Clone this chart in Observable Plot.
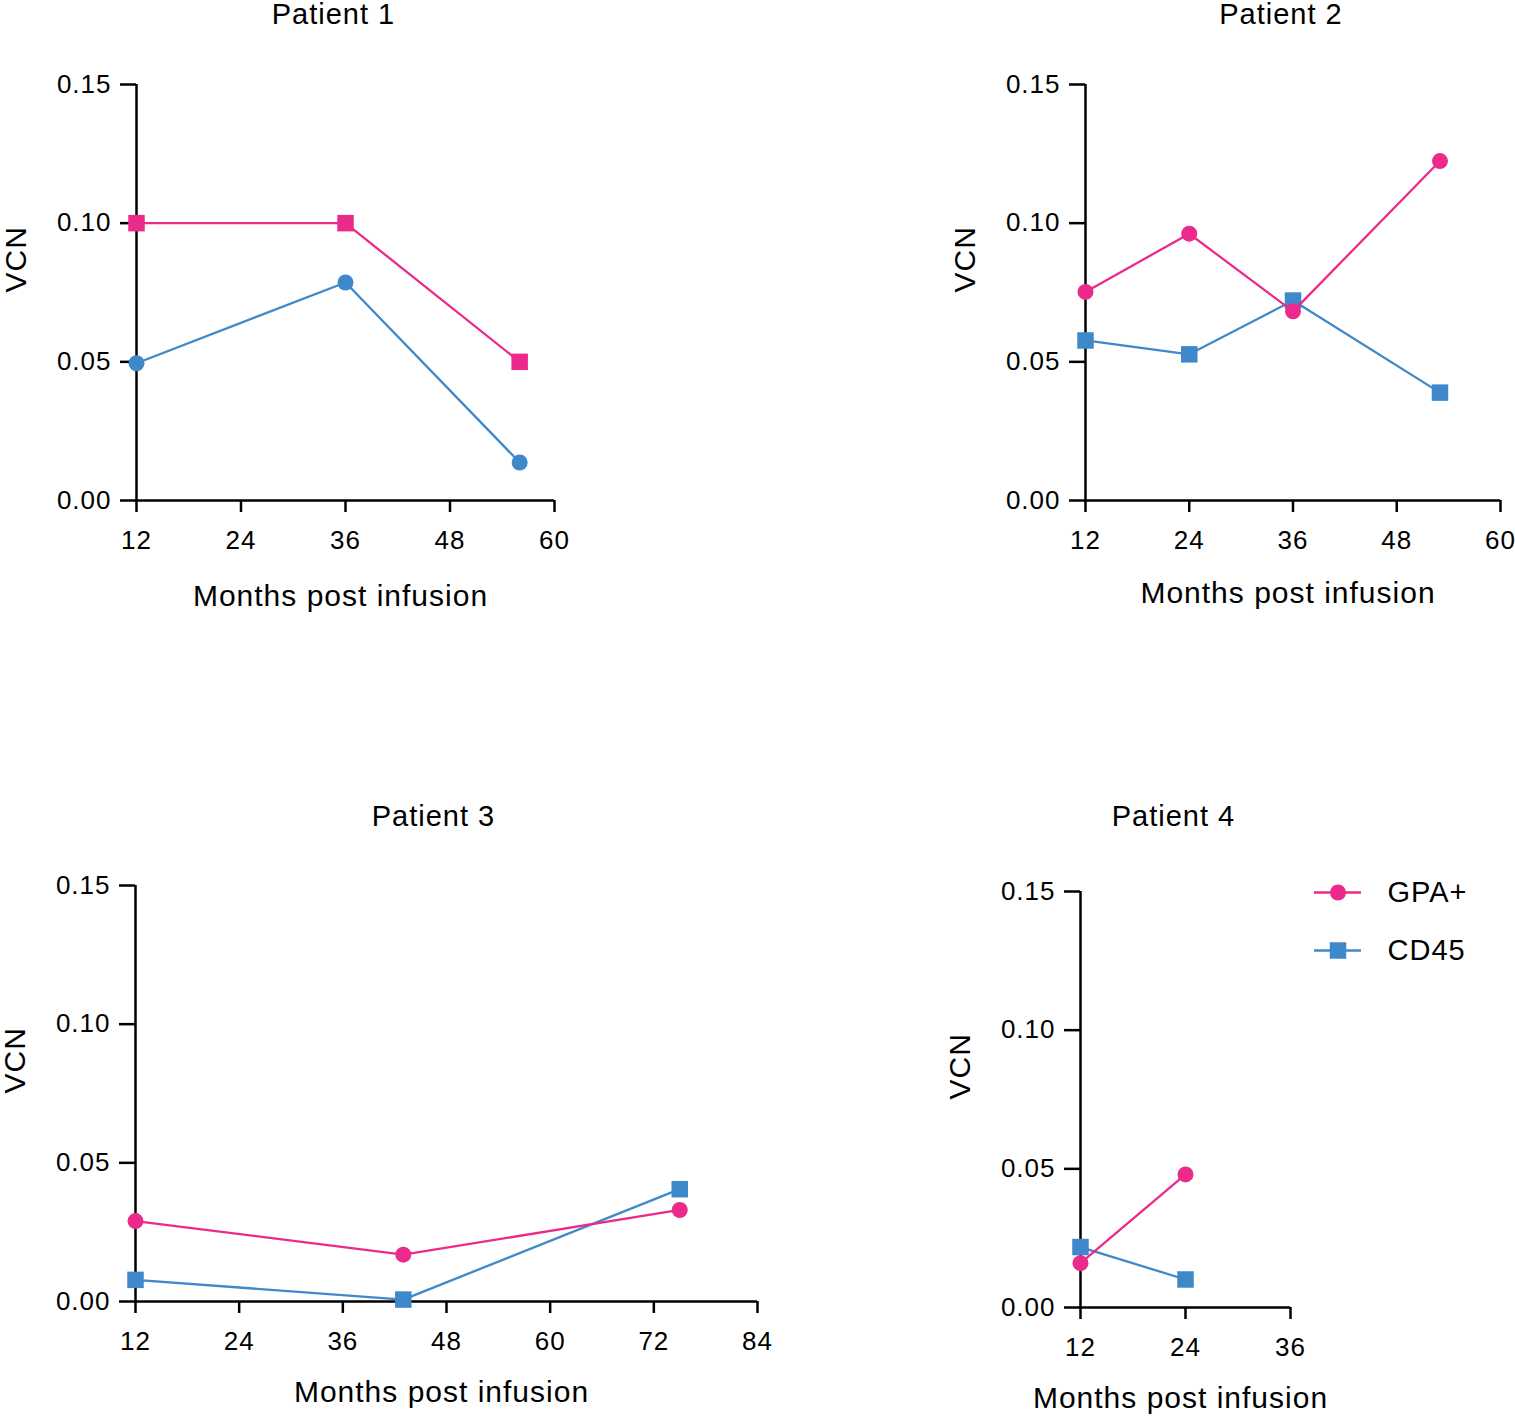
<!DOCTYPE html>
<html>
<head>
<meta charset="utf-8">
<script src="https://cdn.jsdelivr.net/npm/d3@7"></script>
<script src="https://cdn.jsdelivr.net/npm/@observablehq/plot@0.6"></script>
<style>
  html, body { margin: 0; padding: 0; background: #fff; }
  #root { position: relative; width: 1515px; height: 1417px; overflow: hidden; background: #fff; }
  #root svg { position: absolute; overflow: visible; }
</style>
</head>
<body>
<div id="root"></div>
<script>
// ---------- data ----------
const seriesNames = ["GPA+", "CD45"];
const seriesColors = ["#EC2A8B", "#3F88C9"];
const legendSymbols = ["circle", "square"];
const yTicks = [0, 0.05, 0.10, 0.15];

const p1Title = "Patient 1";
const p1Months = [12, 36, 56];
const p1GPA = [0.100, 0.100, 0.050];
const p1CD45 = [0.0495, 0.0786, 0.0137];
const p1Symbols = ["square", "circle"];
const p1XTicks = [12, 24, 36, 48, 60];

const p2Title = "Patient 2";
const p2Months = [12, 24, 36, 53];
const p2GPA = [0.0752, 0.0962, 0.0682, 0.1224];
const p2CD45 = [0.0577, 0.0527, 0.0721, 0.0389];
const p2Symbols = ["circle", "square"];
const p2XTicks = [12, 24, 36, 48, 60];

const p3Title = "Patient 3";
const p3Months = [12, 43, 75];
const p3GPA = [0.0290, 0.0169, 0.0330];
const p3CD45 = [0.0078, 0.0007, 0.0405];
const p3Symbols = ["circle", "square"];
const p3XTicks = [12, 24, 36, 48, 60, 72, 84];

const p4Title = "Patient 4";
const p4Months = [12, 24];
const p4GPA = [0.0160, 0.0480];
const p4CD45 = [0.0218, 0.0101];
const p4Symbols = ["circle", "square"];
const p4XTicks = [12, 24, 36];

const xLabel = "Months post infusion";
const yLabel = "VCN";

// ---------- layout ----------
const FONT = "'Liberation Sans', Arial, Helvetica, sans-serif";
const innerH = 416;
const ML = 136, MT = 84, MR = 30, MB = 120;

const panels = [
  {title: p1Title, months: p1Months, gpa: p1GPA, cd45: p1CD45, symbols: p1Symbols, ticks: p1XTicks,
   axisX: 136, top: 84, plotW: 418, titleDx: -12, titleDy: -70, xLabelDy: 96},
  {title: p2Title, months: p2Months, gpa: p2GPA, cd45: p2CD45, symbols: p2Symbols, ticks: p2XTicks,
   axisX: 1085, top: 84, plotW: 415, titleDx: -12, titleDy: -70, xLabelDy: 93},
  {title: p3Title, months: p3Months, gpa: p3GPA, cd45: p3CD45, symbols: p3Symbols, ticks: p3XTicks,
   axisX: 135, top: 885, plotW: 622, titleDx: -13, titleDy: -69, xLabelDy: 91},
  {title: p4Title, months: p4Months, gpa: p4GPA, cd45: p4CD45, symbols: p4Symbols, ticks: p4XTicks,
   axisX: 1080, top: 891, plotW: 210, titleDx: -12, titleDy: -75, xLabelDy: 91}
];

function symR(sym) { return sym === "square" ? 9.3 : 8; }

const root = document.getElementById("root");

panels.forEach(p => {
  const xMin = p.ticks[0], xMax = p.ticks[p.ticks.length - 1];
  const cd = p.months.map((m, i) => ({month: m, vcn: p.cd45[i], series: seriesNames[1]}));
  const gp = p.months.map((m, i) => ({month: m, vcn: p.gpa[i], series: seriesNames[0]}));

  const chart = Plot.plot({
    width: ML + p.plotW + MR,
    height: MT + innerH + MB,
    marginLeft: ML, marginTop: MT, marginRight: MR, marginBottom: MB,
    style: {fontFamily: FONT, color: "#000", background: "transparent", letterSpacing: "1px"},
    x: {domain: [xMin, xMax]},
    y: {domain: [0, 0.15]},
    marks: [
      Plot.axisX({ticks: p.ticks, tickSize: 12, tickPadding: 18, strokeWidth: 2.5, label: null,
                  fontSize: 26, tickFormat: d3.format("d")}),
      Plot.axisY({ticks: yTicks, tickSize: 16, tickPadding: 9, strokeWidth: 2.5, label: null,
                  fontSize: 26, tickFormat: d3.format(".2f")}),
      Plot.ruleX([xMin], {y1: 0, y2: 0.15, stroke: "#000", strokeWidth: 2.5}),
      Plot.ruleY([0], {x1: xMin, x2: xMax, stroke: "#000", strokeWidth: 2.5}),
      Plot.line(cd, {x: "month", y: "vcn", stroke: seriesColors[1], strokeWidth: 2.3}),
      Plot.dot(cd, {x: "month", y: "vcn", symbol: p.symbols[1], r: symR(p.symbols[1]), fill: seriesColors[1], stroke: "none"}),
      Plot.line(gp, {x: "month", y: "vcn", stroke: seriesColors[0], strokeWidth: 2.3}),
      Plot.dot(gp, {x: "month", y: "vcn", symbol: p.symbols[0], r: symR(p.symbols[0]), fill: seriesColors[0], stroke: "none"}),
      Plot.text([p.title], {frameAnchor: "top", lineAnchor: "middle", dy: p.titleDy, dx: p.titleDx, fontSize: 29, fill: "#000"}),
      Plot.text([xLabel], {frameAnchor: "bottom", lineAnchor: "middle", dy: p.xLabelDy, dx: -5, fontSize: 30, fill: "#000"}),
      Plot.text([yLabel], {frameAnchor: "left", lineAnchor: "middle", dx: -120, rotate: -90, fontSize: 30, fill: "#000"})
    ]
  });
  chart.style.left = (p.axisX - ML) + "px";
  chart.style.top = (p.top - MT) + "px";
  root.appendChild(chart);
});

// ---------- legend ----------
const legendRows = seriesNames.map((name, i) => ({name, color: seriesColors[i], symbol: legendSymbols[i]}));
const legend = Plot.plot({
  width: 200, height: 90,
  margin: 0,
  style: {fontFamily: FONT, color: "#000", background: "transparent", letterSpacing: "1px"},
  x: {domain: [0, 1], range: [0, 47], axis: null},
  y: {type: "point", domain: seriesNames, range: [15, 73], padding: 0, axis: null},
  marks: [
    Plot.ruleY(legendRows, {y: "name", x1: 0, x2: 1, stroke: "color", strokeWidth: 2.3}),
    Plot.dot(legendRows.filter(d => d.symbol === "circle"), {x: 0.5, y: "name", symbol: "circle", r: symR("circle"), fill: "color", stroke: "none"}),
    Plot.dot(legendRows.filter(d => d.symbol === "square"), {x: 0.5, y: "name", symbol: "square", r: symR("square"), fill: "color", stroke: "none"}),
    Plot.text(legendRows, {x: 1, y: "name", text: "name", dx: 26, textAnchor: "start", fontSize: 29, fill: "#000"})
  ]
});
legend.style.left = "1314px";
legend.style.top = "877px";
root.appendChild(legend);
</script>
</body>
</html>
